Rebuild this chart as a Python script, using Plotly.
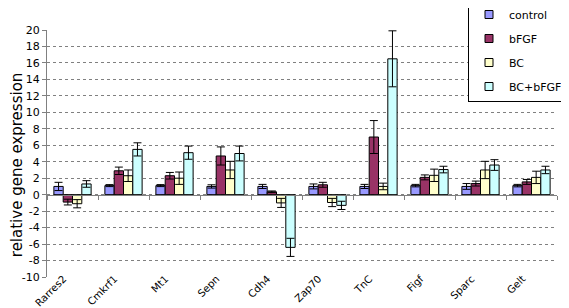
import plotly.graph_objects as go

categories = ["Rarres2", "Cmkrf1", "Mt1", "Sepn", "Cdh4", "Zap70", "TnC", "Figf", "Sparc", "Gelt"]
series_names = ["control", "bFGF", "BC", "BC+bFGF"]

control = [1.0, 1.1, 1.1, 1.0, 1.0, 1.0, 1.0, 1.1, 1.0, 1.1]
control_err = [0.5, 0.12, 0.12, 0.2, 0.25, 0.3, 0.25, 0.15, 0.35, 0.15]
bfgf = [-0.9, 2.9, 2.3, 4.7, 0.35, 1.2, 7.0, 2.1, 1.35, 1.55]
bfgf_err = [0.35, 0.45, 0.4, 1.1, 0.1, 0.3, 2.0, 0.3, 0.3, 0.3]
bc = [-1.1, 2.3, 2.0, 3.0, -1.0, -0.95, 1.0, 2.35, 3.0, 2.1]
bc_err = [0.5, 0.7, 0.75, 1.05, 0.55, 0.5, 0.4, 0.75, 1.05, 0.75]
bc_bfgf = [1.3, 5.5, 5.1, 5.0, -6.4, -1.3, 16.5, 3.05, 3.6, 3.0]
bc_bfgf_err = [0.4, 0.8, 0.8, 0.9, 1.1, 0.5, 3.4, 0.4, 0.65, 0.45]

y_ticks = list(range(-10, 21, 2))
y_title = "relative gene expression"

values = [control, bfgf, bc, bc_bfgf]
errors = [control_err, bfgf_err, bc_err, bc_bfgf_err]
colors = ["#9999FF", "#993366", "#FFFFCC", "#CCFFFF"]

FONT = "DejaVu Sans"
PLOT_W, PLOT_H = 510, 247

fig = go.Figure()
for name, v, e, c in zip(series_names, values, errors, colors):
    fig.add_trace(go.Bar(
        x=categories, y=v, name=name, showlegend=False,
        marker=dict(color=c, line=dict(color="black", width=1)),
        error_y=dict(type="data", array=e, color="black", thickness=1, width=4),
    ))
# legend entries (small square symbols)
for name, c in zip(series_names, colors):
    fig.add_trace(go.Scatter(
        x=[None], y=[None], mode="markers", name=name, legendgroup=name,
        marker=dict(symbol="square", size=8, color=c, line=dict(color="black", width=1)),
    ))
# zero axis line with category boundary ticks
fig.add_trace(go.Scatter(
    x=categories, y=[0] * len(categories), xaxis="x2", mode="markers",
    marker=dict(opacity=0), showlegend=False, hoverinfo="skip",
))

fig.update_layout(
    width=569, height=308,
    margin=dict(l=39, r=20, t=22, b=39, autoexpand=False),
    paper_bgcolor="white", plot_bgcolor="white",
    font=dict(family=FONT, size=11, color="black"),
    barmode="group", bargap=0.27, bargroupgap=0,
    showlegend=True,
    legend=dict(
        x=(460 - 39) / PLOT_W, xanchor="left", y=1 + 31 / PLOT_H, yanchor="top",
        bgcolor="white", bordercolor="black", borderwidth=1,
        font=dict(family=FONT, size=11), traceorder="grouped", tracegroupgap=5,
        itemwidth=30,
    ),
    xaxis=dict(
        type="category", categoryorder="array", categoryarray=categories,
        range=[-0.5, len(categories) - 0.5],
        showline=False, showgrid=False, ticks="", tickangle=-45,
        tickfont=dict(family=FONT, size=10.2), zeroline=False,
        ticklabelstandoff=-7, ticklabelshift=-9,
    ),
    xaxis2=dict(
        type="category", categoryorder="array", categoryarray=categories,
        overlaying="x", anchor="free", position=10 / 30,
        range=[-0.5, len(categories) - 0.5],
        showline=True, linecolor="#808080", linewidth=1,
        ticks="outside", ticklen=4, tickcolor="#808080", tickson="boundaries",
        showticklabels=False, showgrid=False, zeroline=False,
    ),
    yaxis=dict(
        range=[-10, 20], tickvals=y_ticks, ticktext=[str(t) for t in y_ticks],
        showline=True, linecolor="#808080", linewidth=1,
        ticks="outside", ticklen=4, tickcolor="#808080",
        showgrid=True, gridcolor="#808080", griddash="dot", gridwidth=1,
        zeroline=False, tickfont=dict(family=FONT, size=11),
    ),
    annotations=[dict(
        text=y_title, textangle=-90, showarrow=False,
        xref="paper", yref="paper", x=(9 - 39) / PLOT_W, y=(269.3 - 157.5) / PLOT_H,
        xanchor="center", yanchor="middle",
        font=dict(family=FONT, size=15, color="black"),
    )],
)

fig.write_html("out.html")
